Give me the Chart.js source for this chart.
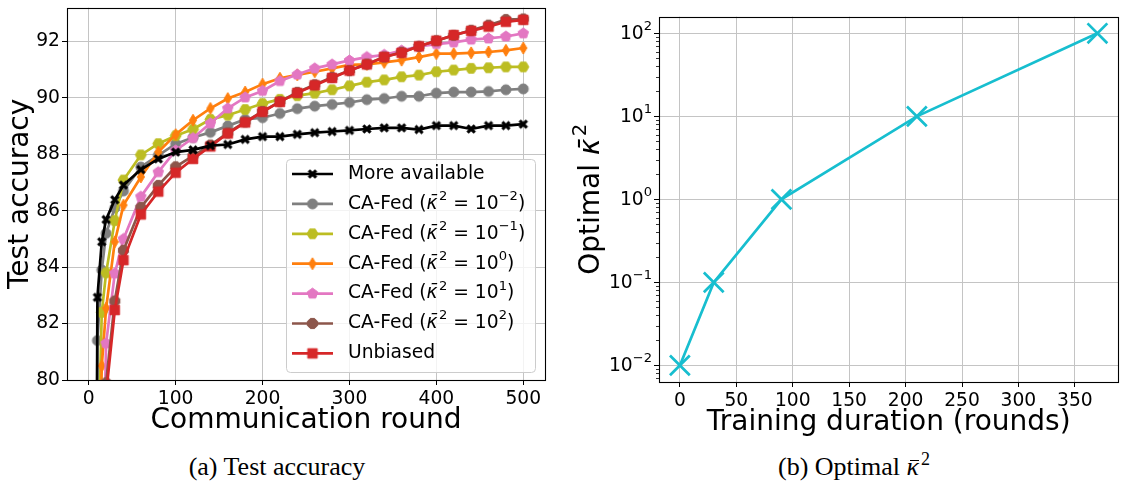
<!DOCTYPE html>
<html>
<head>
<meta charset="utf-8">
<script src="https://cdn.jsdelivr.net/npm/chart.js@4.4.0/dist/chart.umd.min.js"></script>
<style>
  html, body { margin: 0; padding: 0; background: #fff; overflow: hidden; }
  body { width: 1134px; height: 489px; position: relative; }
  canvas { position: absolute; top: 0; }
  #accChart { left: 0; }
  #kappaChart { left: 570px; }
  .caption {
    position: absolute; top: 452px; transform: translateX(-50%);
    font-family: 'Liberation Serif', serif; font-size: 26px; line-height: 30px; white-space: nowrap;
  }
  .caption sup { font-size: 18px; line-height: 0; margin-left: 2px; }
  .kbar { position: relative; font-style: italic; }
  .kbar::before { content: ''; position: absolute; left: 3px; right: 0; top: 8px; border-top: 1.5px solid #000; }
</style>
</head>
<body>
<canvas id="accChart" width="560" height="440"></canvas>
<canvas id="kappaChart" width="565" height="440"></canvas>
<div class="caption" style="left:277px">(a) Test accuracy</div>
<div class="caption" style="left:854px">(b) Optimal <span class="kbar">κ</span><sup>2</sup></div>
<script>
// (a) test accuracy per communication round
const rounds = [0, 10, 15, 20, 30, 40, 60, 80, 100, 120, 140, 160, 180, 200, 220, 240, 260, 280, 300, 320, 340, 360, 380, 400, 420, 440, 460, 480, 500];
const moreAvailable = [10, 82.93, 84.9, 85.69, 86.39, 86.91, 87.46, 87.84, 88.08, 88.16, 88.31, 88.35, 88.53, 88.63, 88.63, 88.71, 88.77, 88.81, 88.85, 88.9, 88.94, 88.94, 88.88, 89.02, 89.02, 88.9, 89.02, 89.02, 89.07];
const caFedK2m2 = [10, 81.4, 83.9, 85.2, 86.1, 86.7, 87.55, 87.96, 88.37, 88.6, 88.78, 89.01, 89.24, 89.3, 89.45, 89.62, 89.71, 89.77, 89.84, 89.94, 89.98, 90.06, 90.06, 90.17, 90.21, 90.21, 90.23, 90.29, 90.32];
const caFedK2m1 = [10, 76, 82.4, 83.8, 85.65, 87.09, 87.98, 88.38, 88.66, 88.89, 89.24, 89.39, 89.59, 89.8, 89.95, 90.08, 90.17, 90.29, 90.43, 90.56, 90.64, 90.75, 90.81, 90.93, 90.99, 91.05, 91.07, 91.1, 91.1];
const caFedK20 = [10, 72, 80.5, 82.55, 84.9, 86.2, 87.2, 88.08, 88.7, 89.21, 89.63, 89.98, 90.21, 90.49, 90.7, 90.82, 90.93, 91.05, 91.17, 91.19, 91.26, 91.34, 91.45, 91.57, 91.57, 91.6, 91.63, 91.69, 91.77];
const caFedK21 = [10, 62, 74, 81.3, 83.78, 85.0, 86.5, 87.37, 88.14, 88.58, 89.1, 89.63, 90.02, 90.25, 90.6, 90.83, 91.05, 91.19, 91.33, 91.45, 91.53, 91.68, 91.83, 91.91, 91.97, 92.07, 92.11, 92.18, 92.29];
const caFedK22 = [10, 57, 71, 79.9, 82.8, 84.6, 86.12, 86.9, 87.56, 87.95, 88.33, 88.76, 89.15, 89.52, 89.87, 90.2, 90.47, 90.73, 90.97, 91.2, 91.45, 91.62, 91.83, 92.03, 92.22, 92.4, 92.58, 92.78, 92.8];
const unbiased = [10, 55, 70, 79.5, 82.48, 84.25, 85.87, 86.68, 87.35, 87.84, 88.28, 88.74, 89.13, 89.51, 89.86, 90.18, 90.45, 90.71, 90.97, 91.19, 91.45, 91.6, 91.83, 92.03, 92.23, 92.38, 92.53, 92.7, 92.77];
const seriesLabels = ['More available', 'CA-Fed (κ̄² = 10⁻²)', 'CA-Fed (κ̄² = 10⁻¹)', 'CA-Fed (κ̄² = 10⁰)', 'CA-Fed (κ̄² = 10¹)', 'CA-Fed (κ̄² = 10²)', 'Unbiased'];
const accXTicks = [0, 100, 200, 300, 400, 500];
const accYTicks = [80, 82, 84, 86, 88, 90, 92];

// (b) optimal kappa^2 vs training duration
const durations = [0, 30, 90, 210, 370];
const optimalKappa = [0.01, 0.1, 1, 10, 100];
const durXTicks = [0, 50, 100, 150, 200, 250, 300, 350];
const kappaYTicks = [0.01, 0.1, 1, 10, 100];

Chart.defaults.font.family = 'DejaVu Sans';
Chart.defaults.font.size = 18.7;
Chart.defaults.color = '#000';

// small canvases used as matplotlib-like markers
function makeMarker(shape, color, size) {
  const c = document.createElement('canvas');
  c.width = c.height = Math.ceil(size + 4);
  const g = c.getContext('2d');
  const m = c.width / 2, r = size / 2;
  g.fillStyle = color;
  g.strokeStyle = color;
  g.lineWidth = 1;
  g.beginPath();
  if (shape === 'circle') {
    g.arc(m, m, r, 0, Math.PI * 2);
  } else if (shape === 'square') {
    g.rect(m - r, m - r, size, size);
  } else if (shape === 'thinDiamond') {
    g.moveTo(m, m - r); g.lineTo(m + r * 0.6, m); g.lineTo(m, m + r); g.lineTo(m - r * 0.6, m);
    g.closePath();
  } else if (shape === 'X') {
    g.lineWidth = size * 0.32;
    const k = r * 0.72;
    g.moveTo(m - k, m - k); g.lineTo(m + k, m + k);
    g.moveTo(m + k, m - k); g.lineTo(m - k, m + k);
    g.stroke();
    return c;
  } else {
    const n = shape.n, a0 = shape.start;
    for (let i = 0; i < n; i++) {
      const a = a0 + i * 2 * Math.PI / n;
      const px = m + r * Math.cos(a), py = m + r * Math.sin(a);
      if (i === 0) g.moveTo(px, py); else g.lineTo(px, py);
    }
    g.closePath();
  }
  g.fill();
  g.stroke();
  return c;
}

const accSeries = [
  { data: moreAvailable, color: '#000000', marker: makeMarker('X', '#000000', 10), order: 0 },
  { data: caFedK2m2, color: '#7f7f7f', marker: makeMarker('circle', '#7f7f7f', 10), order: 6 },
  { data: caFedK2m1, color: '#bcbd22', marker: makeMarker({ n: 6, start: 0 }, '#bcbd22', 11), order: 5 },
  { data: caFedK20, color: '#ff7f0e', marker: makeMarker('thinDiamond', '#ff7f0e', 12), order: 4 },
  { data: caFedK21, color: '#e377c2', marker: makeMarker({ n: 5, start: -Math.PI / 2 }, '#e377c2', 11), order: 3 },
  { data: caFedK22, color: '#8c564b', marker: makeMarker({ n: 8, start: Math.PI / 8 }, '#8c564b', 11), order: 2 },
  { data: unbiased, color: '#d62728', marker: makeMarker('square', '#d62728', 9.5), order: 1 }
];

// mathtext-like drawing: superscript chars raised, kappa-bar in italic
const supChars = { '⁻': '−', '⁰': '0', '¹': '1', '²': '2', '³': '3' };
function toSegments(text) {
  const segs = [];
  for (let i = 0; i < text.length; i++) {
    let kind = 'n', t = text[i];
    if (supChars[t]) { kind = 's'; t = supChars[t]; }
    else if (t === 'κ') { kind = 'i'; if (text[i + 1] === '\u0304') { t += '\u0304'; i++; } }
    const last = segs[segs.length - 1];
    if (last && last.kind === kind) last.t += t; else segs.push({ kind, t });
  }
  return segs;
}
function segFont(kind, size) {
  if (kind === 's') return (size * 0.7).toFixed(1) + 'px "DejaVu Sans"';
  if (kind === 'i') return 'italic ' + size + 'px "DejaVu Sans"';
  return size + 'px "DejaVu Sans"';
}
function drawRich(ctx, text, x, y, size, align) {
  const segs = toSegments(text);
  let w = 0;
  segs.forEach(s => {
    ctx.font = segFont(s.kind, size);
    s.w = ctx.measureText(s.t).width + (s.kind === 'i' ? size * 0.08 : 0);
    w += s.w;
  });
  let cx = align === 'right' ? x - w : align === 'center' ? x - w / 2 : x;
  ctx.textAlign = 'left';
  segs.forEach(s => {
    ctx.font = segFont(s.kind, size);
    ctx.fillText(s.t, cx, s.kind === 's' ? y - size * 0.4 : y);
    cx += s.w;
  });
}

function fixBox(width, height) {
  return s => {
    if (width !== undefined) s.width = width;
    if (height !== undefined) s.height = height;
    s.paddingTop = s.paddingBottom = s.paddingLeft = s.paddingRight = 0;
  };
}

const gridOpts = { color: '#c4c4c4', lineWidth: 1, tickColor: '#000', tickLength: 5, tickWidth: 1 };

const frame = {
  id: 'frame',
  afterDatasetsDraw(chart) {
    const { ctx, chartArea: a } = chart;
    ctx.save();
    ctx.strokeStyle = '#000';
    ctx.lineWidth = 1.1;
    ctx.strokeRect(Math.round(a.left) + 0.5, Math.round(a.top) + 0.5, Math.round(a.right - a.left), Math.round(a.bottom - a.top));
    ctx.restore();
  }
};

const accLegend = {
  id: 'accLegend',
  afterDraw(chart) {
    const ctx = chart.ctx;
    const bx = 286, by = 159, bw = 249, bh = 213;
    ctx.save();
    ctx.beginPath();
    ctx.roundRect(bx + 0.5, by + 0.5, bw, bh, 4);
    ctx.fillStyle = 'rgba(255,255,255,0.8)';
    ctx.fill();
    ctx.strokeStyle = '#cccccc';
    ctx.lineWidth = 1;
    ctx.stroke();
    ctx.textBaseline = 'middle';
    accSeries.forEach((s, i) => {
      const y = 174 + i * 29.9;
      ctx.strokeStyle = s.color;
      ctx.lineWidth = 2.7;
      ctx.beginPath();
      ctx.moveTo(292, y); ctx.lineTo(333, y);
      ctx.stroke();
      ctx.drawImage(s.marker, 312.5 - s.marker.width / 2, y - s.marker.height / 2);
      ctx.fillStyle = '#000';
      drawRich(ctx, seriesLabels[i], 348, y, 18.7, 'left');
    });
    ctx.restore();
  }
};

new Chart(document.getElementById('accChart'), {
  type: 'line',
  data: {
    datasets: accSeries.map((s, i) => ({
      label: seriesLabels[i],
      data: rounds.map((r, j) => ({ x: r, y: s.data[j] })),
      borderColor: s.color,
      backgroundColor: s.color,
      borderWidth: 2.7,
      pointStyle: s.marker,
      pointRadius: 5,
      pointHoverRadius: 5,
      tension: 0,
      clip: 0,
      order: s.order
    }))
  },
  options: {
    responsive: false,
    animation: false,
    devicePixelRatio: 1,
    layout: { padding: { top: 2, right: 15, left: 0, bottom: 0 } },
    plugins: { legend: { display: false }, tooltip: { enabled: false } },
    scales: {
      x: {
        type: 'linear', min: -25, max: 525,
        afterBuildTicks: s => { s.ticks = accXTicks.map(v => ({ value: v })); },
        afterFit: fixBox(undefined, 60),
        grid: gridOpts,
        border: { display: false },
        ticks: { padding: 3, maxRotation: 0 },
        title: { display: true, text: 'Communication round', font: { size: 28, lineHeight: 1 }, padding: { top: 0, bottom: 5 } }
      },
      y: {
        type: 'linear', min: 80, max: 93.2,
        afterBuildTicks: s => { s.ticks = accYTicks.map(v => ({ value: v })); },
        afterFit: fixBox(67, undefined),
        grid: gridOpts,
        border: { display: false },
        ticks: { padding: 2 },
        title: { display: true, text: 'Test accuracy', font: { size: 28, lineHeight: 1 }, padding: { top: 7, bottom: 0 } }
      }
    }
  },
  plugins: [frame, accLegend]
});

// log-axis extras: minor ticks, 10^n labels and the y title with kappa-bar
const logAxisDecor = {
  id: 'logAxisDecor',
  afterDatasetsDraw(chart) {
    const ys = chart.scales.y, a = chart.chartArea, ctx = chart.ctx;
    const left = Math.round(a.left);
    ctx.save();
    ctx.strokeStyle = '#000';
    ctx.lineWidth = 0.8;
    for (let d = -3; d <= 2; d++) {
      for (let k = 2; k <= 9; k++) {
        const v = k * Math.pow(10, d);
        if (v < ys.min || v > ys.max) continue;
        const py = Math.round(ys.getPixelForValue(v)) + 0.5;
        ctx.beginPath();
        ctx.moveTo(left - 3, py);
        ctx.lineTo(left, py);
        ctx.stroke();
      }
    }
    ctx.fillStyle = '#000';
    ctx.textBaseline = 'middle';
    kappaYTicks.forEach(v => {
      const e = Math.round(Math.log10(v));
      const sup = String(e).replace('-', '⁻').replace(/\d/g, ch => '⁰¹²³'[+ch]);
      drawRich(ctx, '10' + sup, left - 7, ys.getPixelForValue(v) + 1, 18.7, 'right');
    });
    ctx.translate(22, (a.top + a.bottom) / 2);
    ctx.rotate(-Math.PI / 2);
    drawRich(ctx, 'Optimal κ̄²', 0, 0, 28, 'center');
    ctx.restore();
  }
};

new Chart(document.getElementById('kappaChart'), {
  type: 'line',
  data: {
    datasets: [{
      data: durations.map((d, i) => ({ x: d, y: optimalKappa[i] })),
      borderColor: '#17becf',
      backgroundColor: '#17becf',
      borderWidth: 2.7,
      pointStyle: 'crossRot',
      pointRadius: 14,
      pointHoverRadius: 14,
      pointBorderWidth: 2.7,
      tension: 0,
      clip: false
    }]
  },
  options: {
    responsive: false,
    animation: false,
    devicePixelRatio: 1,
    layout: { padding: { top: 4, right: 0, left: 0, bottom: 0 } },
    plugins: { legend: { display: false }, tooltip: { enabled: false } },
    scales: {
      x: {
        type: 'linear', min: -18.5, max: 388.5,
        afterBuildTicks: s => { s.ticks = durXTicks.map(v => ({ value: v })); },
        afterFit: fixBox(undefined, 58),
        grid: gridOpts,
        border: { display: false },
        ticks: { padding: 3, maxRotation: 0 },
        title: { display: true, text: 'Training duration (rounds)', font: { size: 28, lineHeight: 1 }, padding: { top: 0, bottom: 3 } }
      },
      y: {
        type: 'logarithmic', min: Math.pow(10, -2.2), max: Math.pow(10, 2.2),
        afterBuildTicks: s => { s.ticks = kappaYTicks.map(v => ({ value: v })); },
        afterFit: fixBox(89, undefined),
        grid: gridOpts,
        border: { display: false },
        ticks: { display: false }
      }
    }
  },
  plugins: [frame, logAxisDecor]
});
</script>
</body>
</html>
